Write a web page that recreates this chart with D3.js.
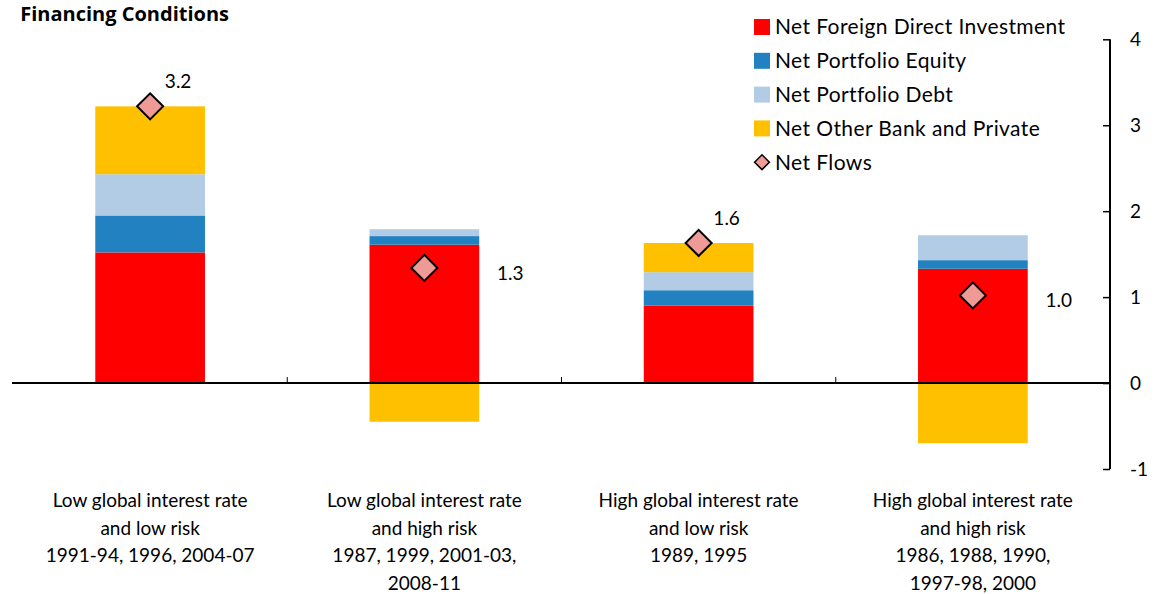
<!DOCTYPE html>
<html>
<head>
<meta charset="utf-8">
<script src="https://cdn.jsdelivr.net/npm/d3@7"></script>
<style>
  html, body { margin: 0; padding: 0; background: #fff; }
  svg { display: block; font-family: Lato, "Open Sans", sans-serif; }
</style>
</head>
<body>
<svg id="chart" width="1156" height="594"></svg>
<script>
// Regime categories (one label line per entry)
const categories = [
  ["Low global interest rate", "and low risk", "1991-94, 1996, 2004-07"],
  ["Low global interest rate", "and high risk", "1987, 1999, 2001-03,", "2008-11"],
  ["High global interest rate", "and low risk", "1989, 1995"],
  ["High global interest rate", "and high risk", "1986, 1988, 1990,", "1997-98, 2000"]
];

// Component flows, percent of GDP
const netFDI        = [1.52, 1.61, 0.90, 1.33];
const netEquity     = [0.43, 0.10, 0.18, 0.10];
const netDebt       = [0.48, 0.08, 0.21, 0.29];
const netOtherBank  = [0.79, -0.45, 0.34, -0.70];
const netFlows      = [3.22, 1.34, 1.63, 1.02];

const seriesNames = ["Net Foreign Direct Investment", "Net Portfolio Equity",
                     "Net Portfolio Debt", "Net Other Bank and Private"];
const seriesColors = ["#FF0000", "#2281C1", "#B1CCE4", "#FFC000"];
const yTicks = [-1, 0, 1, 2, 3, 4];

const svg = d3.select("#chart");

const x = d3.scaleBand().domain(d3.range(categories.length)).range([13, 1110]).padding(0);
const y = d3.scaleLinear().domain([-1, 4]).range([469, 39.3]);
const barW = x.bandwidth() * 0.4;

// Stack the four components, negatives going below zero
const rows = categories.map((c, i) => ({
  i, s0: netFDI[i], s1: netEquity[i], s2: netDebt[i], s3: netOtherBank[i]
}));
const stack = d3.stack().keys(["s0", "s1", "s2", "s3"]).offset(d3.stackOffsetDiverging);
const layers = stack(rows);

svg.append("g").selectAll("g")
  .data(layers)
  .join("g")
  .attr("fill", (d, k) => seriesColors[k])
  .selectAll("rect")
  .data(d => d)
  .join("rect")
  .attr("x", d => x(d.data.i) + (x.bandwidth() - barW) / 2)
  .attr("width", barW)
  .attr("y", d => y(Math.max(d[0], d[1])))
  .attr("height", d => Math.abs(y(d[0]) - y(d[1])));

// Category axis along zero
const xAxisG = svg.append("g").attr("transform", `translate(0,${y(0)})`);
xAxisG.append("line")
  .attr("x1", 12).attr("x2", 1110).attr("stroke", "#000").attr("stroke-width", 2);
xAxisG.selectAll("line.tick")
  .data(d3.range(1, categories.length))
  .join("line")
  .attr("class", "tick")
  .attr("x1", d => x(d)).attr("x2", d => x(d))
  .attr("y1", 0).attr("y2", -6)
  .attr("stroke", "#000").attr("stroke-width", 1);

// Category labels beneath the plot
const catG = svg.append("g");
categories.forEach((lines, i) => {
  const t = catG.append("text")
    .attr("x", x(i) + x.bandwidth() / 2)
    .attr("y", 507)
    .attr("text-anchor", "middle")
    .attr("font-size", 19)
    .attr("fill", "#000");
  lines.forEach((ln, j) => {
    t.append("tspan").attr("x", x(i) + x.bandwidth() / 2).attr("dy", j === 0 ? 0 : 27.5).text(ln);
  });
});

// Right-hand value axis
const yAxis = d3.axisRight(y).tickValues(yTicks).tickSize(0).tickPadding(20).tickFormat(d3.format("d"));
const yAxisG = svg.append("g").attr("transform", "translate(1110,0)").call(yAxis);
yAxisG.select(".domain").remove();
yAxisG.append("line").attr("y1", y(4)).attr("y2", y(-1)).attr("stroke", "#000").attr("stroke-width", 2);
yAxisG.selectAll(".tick").append("line").attr("x1", 0).attr("x2", -7).attr("stroke", "#000").attr("stroke-width", 1.5);
yAxisG.selectAll(".tick text")
  .attr("font-size", 19).attr("font-family", "Lato, 'Open Sans', sans-serif").attr("fill", "#000")
  .attr("text-anchor", "start")
  .text(d => d < 0 ? "-" + Math.abs(d) : d);

// Net flow markers with value labels
const diamond = d3.symbol().type(d3.symbolSquare).size(340);
const netG = svg.append("g");
netFlows.forEach((v, i) => {
  const cx = x(i) + x.bandwidth() / 2;
  const cy = y(v);
  netG.append("path")
    .attr("d", diamond())
    .attr("transform", `translate(${cx},${cy}) rotate(45)`)
    .attr("fill", "#F09A98").attr("stroke", "#000").attr("stroke-width", 2);
  const posTop = d3.sum([netFDI[i], netEquity[i], netDebt[i], netOtherBank[i]].filter(d => d > 0));
  const onTop = Math.abs(posTop - v) < 0.05;
  netG.append("text")
    .attr("x", onTop ? cx + 28 : x(i) + (x.bandwidth() + barW) / 2 + 31)
    .attr("y", onTop ? cy - 25 : cy + 5)
    .attr("dy", "0.35em")
    .attr("text-anchor", "middle")
    .attr("font-size", 19)
    .attr("fill", "#000")
    .text(d3.format(".1f")(v));
});

// Legend
const legendItems = seriesNames.map((n, k) => ({ name: n, color: seriesColors[k], type: "box" }))
  .concat([{ name: "Net Flows", type: "diamond" }]);
const lg = svg.append("g").attr("transform", "translate(754,27)");
legendItems.forEach((d, k) => {
  const row = lg.append("g").attr("transform", `translate(0,${k * 33.8})`);
  if (d.type === "box") {
    row.append("rect").attr("x", 0).attr("y", -8).attr("width", 16).attr("height", 16).attr("fill", d.color);
  } else {
    row.append("path").attr("d", d3.symbol().type(d3.symbolSquare).size(110)())
      .attr("transform", "translate(8,0) rotate(45)")
      .attr("fill", "#F09A98").attr("stroke", "#000").attr("stroke-width", 1.5);
  }
  row.append("text").attr("x", 21).attr("dy", "0.35em")
    .attr("font-size", 21).attr("letter-spacing", 0.4).attr("fill", "#000").text(d.name);
});

// Title, set against the left edge
svg.append("text")
  .attr("x", 229).attr("y", 21)
  .attr("text-anchor", "end")
  .attr("font-family", "'Open Sans', Lato, sans-serif")
  .attr("font-size", 20).attr("font-weight", "bold").attr("fill", "#000")
  .text("Financing Conditions");
</script>
</body>
</html>
